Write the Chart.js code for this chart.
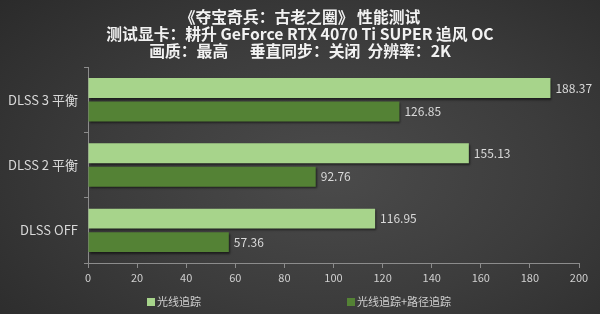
<!DOCTYPE html>
<html>
<head>
<meta charset="utf-8">
<script src="https://cdn.jsdelivr.net/npm/chart.js@4"></script>
<style>
  html, body { margin: 0; padding: 0; }
  body {
    width: 600px; height: 314px; overflow: hidden;
    background: radial-gradient(ellipse 75% 85% at 55% 55%, #4b4b4b 0%, #3c3c3c 50%, #2a2a2a 100%);
  }
  canvas { display: block; }
</style>
</head>
<body>
<canvas id="c" width="600" height="314"></canvas>
<script>
const titleLines = ['《夺宝奇兵：古老之圈》 性能测试', '测试显卡：耕升 GeForce RTX 4070 Ti SUPER 追风 OC', '画质：最高      垂直同步：关闭  分辨率：2K'];
const categories = ['DLSS 3 平衡', 'DLSS 2 平衡', 'DLSS OFF'];
const seriesNames = ['光线追踪', '光线追踪+路径追踪'];
const rtValues = [188.37, 155.13, 116.95];
const ptValues = [126.85, 92.76, 57.36];
const xTicks = [0, 20, 40, 60, 80, 100, 120, 140, 160, 180, 200];
const colors = ['#a7d48b', '#548235'];

const FONT = '"Noto Sans CJK SC", "Noto Sans", sans-serif';

const shadowPlugin = {
  id: 'barShadow',
  beforeDatasetsDraw(chart) {
    const ctx = chart.ctx;
    ctx.save();
    ctx.shadowColor = 'rgba(0,0,0,0.55)';
    ctx.shadowBlur = 2;
    ctx.shadowOffsetX = 1;
    ctx.shadowOffsetY = 1.5;
  },
  afterDatasetsDraw(chart) {
    chart.ctx.restore();
  }
};

const valueLabels = {
  id: 'valueLabels',
  afterDatasetsDraw(chart) {
    const ctx = chart.ctx;
    ctx.save();
    ctx.font = '12px ' + FONT;
    ctx.fillStyle = '#d9d9d9';
    ctx.textAlign = 'left';
    ctx.textBaseline = 'middle';
    chart.data.datasets.forEach((ds, di) => {
      const meta = chart.getDatasetMeta(di);
      meta.data.forEach((el, i) => {
        ctx.fillText(ds.data[i].toFixed(2), el.x + 5, el.y);
      });
    });
    ctx.restore();
  }
};

const customLegend = {
  id: 'customLegend',
  afterDraw(chart) {
    const ctx = chart.ctx;
    ctx.save();
    ctx.font = '11px ' + FONT;
    ctx.textBaseline = 'middle';
    ctx.textAlign = 'left';
    const starts = [147, 347];
    const y = 302;
    chart.data.datasets.forEach((ds, i) => {
      ctx.fillStyle = ds.backgroundColor;
      ctx.fillRect(starts[i], y - 4, 8, 8);
      ctx.fillStyle = '#cfcfcf';
      ctx.fillText(ds.label, starts[i] + 10, y);
    });
    ctx.restore();
  }
};

new Chart(document.getElementById('c'), {
  type: 'bar',
  data: {
    labels: categories,
    datasets: [
      { label: seriesNames[0], data: rtValues, backgroundColor: colors[0], barPercentage: 0.85, categoryPercentage: 0.72 },
      { label: seriesNames[1], data: ptValues, backgroundColor: colors[1], barPercentage: 0.85, categoryPercentage: 0.72 }
    ]
  },
  options: {
    indexAxis: 'y',
    responsive: false,
    animation: false,
    devicePixelRatio: 1,
    layout: { padding: { left: 0, right: 0, top: 0, bottom: 24 } },
    plugins: {
      legend: { display: false },
      tooltip: { enabled: false },
      title: {
        display: true,
        text: titleLines,
        color: '#f2f2f2',
        font: { family: FONT, size: 15.8, weight: 'bold', lineHeight: 1.08 },
        padding: { top: 8, bottom: 8 }
      }
    },
    scales: {
      x: {
        min: 0, max: 200,
        afterBuildTicks(scale) { scale.ticks = xTicks.map(v => ({ value: v })); },
        afterFit(scale) { scale.height = 27; },
        grid: { display: true, drawOnChartArea: false, tickLength: 5, color: '#8c8c8c' },
        border: { display: true, color: '#8c8c8c' },
        ticks: { color: '#d0d0d0', font: { family: FONT, size: 11 }, padding: 3 }
      },
      y: {
        afterFit(scale) { scale.width = 88; },
        grid: { display: true, drawOnChartArea: false, tickLength: 4, color: '#8c8c8c', offset: true },
        border: { display: true, color: '#8c8c8c' },
        ticks: { color: '#d9d9d9', font: { family: FONT, size: 13 }, padding: 6 }
      },
      yPad: {
        type: 'category',
        position: 'right',
        display: true,
        afterFit(scale) { scale.width = 21; },
        grid: { display: false },
        border: { display: false },
        ticks: { display: false }
      }
    }
  },
  plugins: [shadowPlugin, valueLabels, customLegend]
});
</script>
</body>
</html>
